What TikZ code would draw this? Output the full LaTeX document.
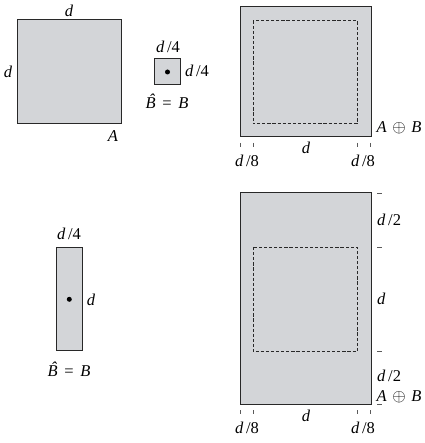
\documentclass[tikz,border=0pt]{standalone}
\usepackage{fontspec}
\setmainfont{Liberation Serif}
\definecolor{boxgray}{RGB}{211,213,216}
\definecolor{edge}{RGB}{40,40,40}
\definecolor{tickc}{RGB}{90,90,90}
\newcommand{\hatB}{\textit{\accent"02C6 B}}
\newcommand{\gapsp}{\kern0.4em}
\begin{document}
\begin{tikzpicture}[x=1pt,y=-1pt,
  region/.style={fill=boxgray,draw=edge,line width=1pt},
  innerbox/.style={draw=edge,dash pattern=on 3.2pt off 1.9pt,line width=0.8pt},
  tickmark/.style={draw=tickc,line width=0.8pt},
  lab/.style={font=\fontsize{16.5}{18}\selectfont,inner sep=0pt},
  ldot/.style={circle,fill=black,inner sep=0pt,minimum size=5pt}]
\useasboundingbox (0,0) rectangle (424,443);
% --- A
\draw[region] (17,20) rectangle (121,123.5);
\node[lab] (Atop) at (69,11) {\textit{d}};
\node[lab] (Aleft) at (8,72) {\textit{d}};
\node[lab] (Aname) at (113,136) {\textit{A}};
% --- small B
\draw[region] (154.5,59) rectangle (180.5,85);
\node[ldot] (B1dot) at (167.5,72) {};
\node[lab] (B1top) at (168,47) {\textit{d}\,/4};
\node[lab] (B1right) at (197,71) {\textit{d}\,/4};
\node[lab] (B1name) at (167,101) {\hatB\gapsp=\gapsp\textit{B}};
% --- top A+B
\draw[region] (240,7) rectangle (371,137);
\draw[innerbox] (253,20.7) rectangle (357,123.7);
\foreach \xx in {240,253.5,357,370.5}{\draw[tickmark] (\xx,143) -- (\xx,147);}
\node[lab] (T1) at (247,161) {\textit{d}\,/8};
\node[lab] (T2) at (306,148) {\textit{d}};
\node[lab] (T3) at (363,161) {\textit{d}\,/8};
\node[lab] (T4) at (399,128) {\textit{A}\,\,$\oplus$\,\,\textit{B}};
% --- tall B
\draw[region] (56,247.3) rectangle (82.3,350.7);
\node[ldot] (B2dot) at (69.3,299.3) {};
\node[lab] (B2top) at (69,234) {\textit{d}\,/4};
\node[lab] (B2right) at (91,300) {\textit{d}};
\node[lab] (B2name) at (69,369) {\hatB\gapsp=\gapsp\textit{B}};
% --- bottom A+B
\draw[region] (240,193) rectangle (371.5,404.5);
\draw[innerbox] (253,247) rectangle (357,351.5);
\foreach \yy in {193,247,351.5,404.5}{\draw[tickmark] (377,\yy) -- (381.5,\yy);}
\foreach \xx in {240,253.5,357,370.5}{\draw[tickmark] (\xx,410) -- (\xx,414);}
\node[lab,anchor=west] (R1) at (377,220) {\textit{d}\,/2};
\node[lab,anchor=west] (R2) at (377,299) {\textit{d}};
\node[lab,anchor=west] (R3) at (377,376) {\textit{d}\,/2};
\node[lab] (R4) at (399,396.5) {\textit{A}\,\,$\oplus$\,\,\textit{B}};
\node[lab] (S1) at (247,428) {\textit{d}\,/8};
\node[lab] (S2) at (306,416) {\textit{d}};
\node[lab] (S3) at (363,428) {\textit{d}\,/8};
\end{tikzpicture}
\end{document}
